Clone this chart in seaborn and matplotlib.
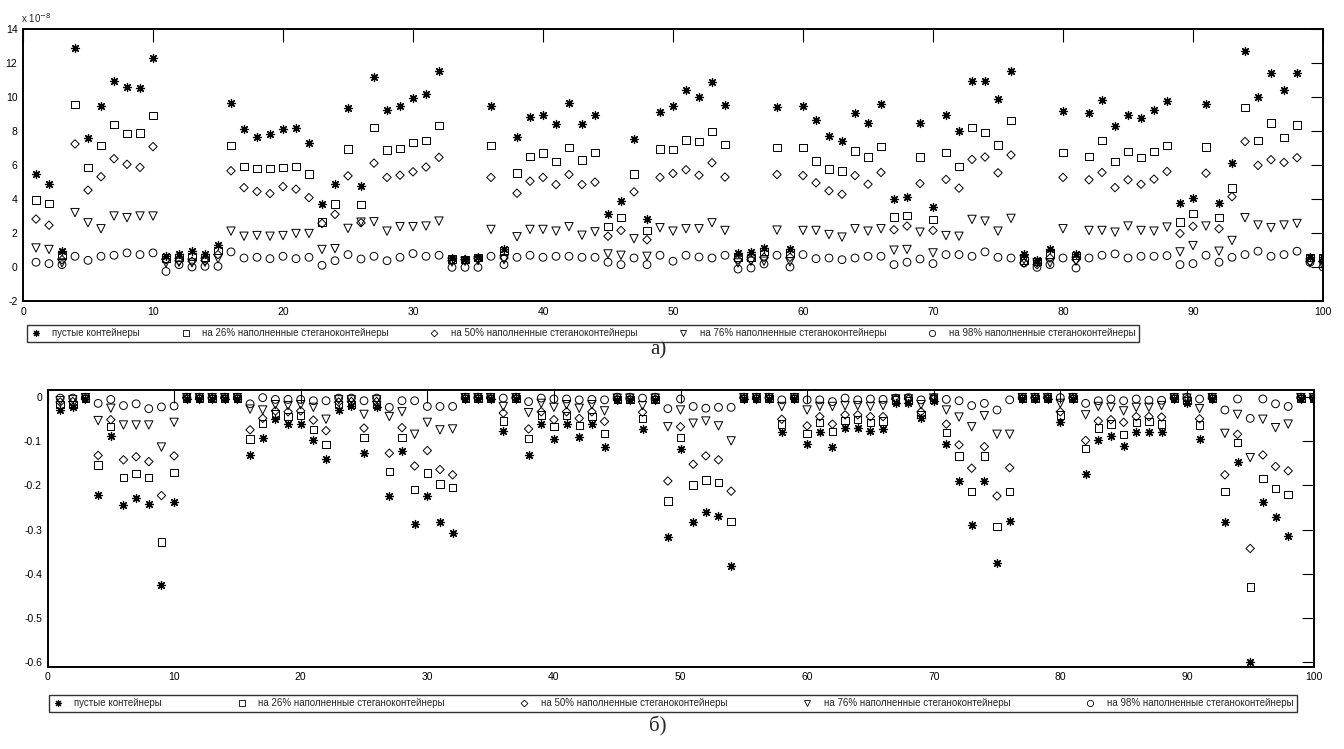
import numpy as np
import matplotlib
matplotlib.use("Agg")
import matplotlib.pyplot as plt
from matplotlib.lines import Line2D
import seaborn as sns

# ---------------- data ----------------
idx = list(range(1, 101))

labels = ["пустые контейнеры",
          "на 26% наполненные стеганоконтейнеры",
          "на 50% наполненные стеганоконтейнеры",
          "на 76% наполненные стеганоконтейнеры",
          "на 98% наполненные стеганоконтейнеры"]

# panel а) values in units of 1e-8
top_empty = [5.46, 4.91, 0.93, 12.9, 7.57, 9.45, 10.97, 10.61, 10.55, 12.3,
             0.63, 0.77, 0.93, 0.79, 1.28, 9.64, 8.13, 7.63, 7.83, 8.13,
             8.17, 7.28, 3.69, 4.91, 9.35, 4.77, 11.18, 9.21, 9.45, 9.94,
             10.16, 11.52, 0.50, 0.47, 0.57, 9.47, 1.08, 7.63, 8.82, 8.97,
             8.42, 9.63, 8.42, 8.97, 3.14, 3.87, 7.53, 2.80, 9.09, 9.45,
             10.43, 10.0, 10.89, 9.51, 0.83, 0.87, 1.12, 9.41, 1.08, 9.45,
             8.66, 7.69, 7.40, 9.05, 8.48, 9.61, 4.02, 4.12, 8.48, 3.53,
             8.93, 7.99, 10.97, 10.93, 9.88, 11.52, 0.79, 0.43, 1.08, 9.15,
             0.79, 9.05, 9.84, 8.32, 8.95, 8.76, 9.21, 9.76, 3.79, 4.04,
             9.57, 3.79, 6.11, 12.70, 10.0, 11.42, 10.43, 11.44, 0.57, 0.57]
top_26 = [3.94, 3.75, 0.69, 9.57, 5.86, 7.14, 8.40, 7.85, 7.89, 8.93,
          0.53, 0.57, 0.63, 0.57, 0.97, 7.14, 5.92, 5.80, 5.80, 5.86,
          5.92, 5.48, 2.64, 3.71, 6.94, 3.67, 8.19, 6.88, 6.98, 7.34,
          7.44, 8.34, 0.47, 0.43, 0.57, 7.16, 0.97, 5.54, 6.51, 6.71,
          6.19, 7.02, 6.29, 6.73, 2.37, 2.90, 5.48, 2.15, 6.94, 6.90,
          7.48, 7.38, 7.97, 7.20, 0.57, 0.57, 0.93, 7.04, 0.83, 7.04,
          6.23, 5.76, 5.64, 6.82, 6.47, 7.10, 2.94, 3.02, 6.47, 2.80,
          6.73, 5.92, 8.19, 7.91, 7.18, 8.62, 0.37, 0.34, 0.77, 6.75,
          0.67, 6.49, 7.44, 6.19, 6.80, 6.45, 6.80, 7.16, 2.64, 3.16,
          7.06, 2.90, 4.64, 9.37, 7.44, 8.46, 7.63, 8.36, 0.57, 0.53]
top_50 = [2.82, 2.46, 0.43, 7.24, 4.52, 5.31, 6.37, 6.04, 5.86, 7.08,
          0.43, 0.37, 0.34, 0.37, 0.73, 5.66, 4.67, 4.44, 4.32, 4.73,
          4.58, 4.08, 2.56, 3.10, 5.36, 2.60, 6.11, 5.27, 5.40, 5.60,
          5.88, 6.45, 0.37, 0.43, 0.49, 5.27, 0.53, 4.34, 5.05, 5.27,
          4.85, 5.44, 4.85, 4.99, 1.81, 2.15, 4.42, 1.60, 5.27, 5.50,
          5.72, 5.40, 6.13, 5.29, 0.43, 0.43, 0.57, 5.44, 0.57, 5.38,
          4.95, 4.48, 4.28, 5.38, 4.87, 5.56, 2.19, 2.41, 4.91, 2.15,
          5.15, 4.64, 6.33, 6.47, 5.54, 6.59, 0.24, 0.14, 0.53, 5.27,
          0.43, 5.13, 5.56, 4.67, 5.13, 4.87, 5.17, 5.62, 1.97, 2.39,
          5.52, 2.25, 4.14, 7.38, 5.98, 6.31, 6.15, 6.43, 0.34, 0.34]
top_76 = [1.12, 1.03, 0.24, 3.20, 2.60, 2.25, 3.00, 2.90, 3.00, 3.00,
          0.24, 0.28, 0.24, 0.28, 0.49, 2.11, 1.81, 1.85, 1.81, 1.85,
          1.97, 1.97, 1.03, 1.08, 2.27, 2.64, 2.66, 2.11, 2.37, 2.37,
          2.41, 2.70, 0.30, 0.34, 0.37, 2.21, 0.43, 1.78, 2.21, 2.21,
          2.11, 2.37, 1.87, 2.07, 0.77, 0.69, 1.66, 0.63, 2.31, 2.11,
          2.25, 2.25, 2.60, 2.15, 0.24, 0.34, 0.34, 2.17, 0.30, 2.15,
          2.15, 1.91, 1.76, 2.25, 2.11, 2.25, 0.99, 1.03, 2.05, 0.83,
          1.85, 1.81, 2.80, 2.70, 2.11, 2.86, 0.43, 0.24, 0.24, 2.25,
          0.34, 2.15, 2.15, 2.05, 2.41, 2.15, 2.11, 2.35, 0.89, 1.26,
          2.41, 0.93, 1.56, 2.90, 2.47, 2.31, 2.47, 2.56, 0.24, 0.08]
top_98 = [0.28, 0.20, 0.14, 0.63, 0.39, 0.63, 0.69, 0.83, 0.73, 0.83,
          -0.26, 0.14, 0.0, 0.04, 0.04, 0.89, 0.53, 0.57, 0.49, 0.63,
          0.49, 0.57, 0.10, 0.37, 0.73, 0.47, 0.63, 0.37, 0.57, 0.79,
          0.63, 0.69, -0.02, -0.02, -0.02, 0.63, 0.14, 0.57, 0.69, 0.57,
          0.63, 0.63, 0.57, 0.57, 0.28, 0.14, 0.53, 0.14, 0.69, 0.34,
          0.69, 0.59, 0.53, 0.69, -0.12, -0.06, 0.18, 0.69, 0.0, 0.73,
          0.49, 0.53, 0.43, 0.53, 0.63, 0.63, 0.14, 0.28, 0.47, 0.20,
          0.73, 0.73, 0.63, 0.89, 0.57, 0.53, 0.24, -0.02, 0.14, 0.53,
          -0.06, 0.53, 0.69, 0.77, 0.53, 0.63, 0.63, 0.67, 0.14, 0.20,
          0.69, 0.28, 0.57, 0.73, 0.93, 0.63, 0.73, 0.93, 0.28, 0.0]

# panel б) values
bot_empty = [-0.029, -0.023, -0.004, -0.222, -0.089, -0.244, -0.228, -0.242, -0.426, -0.237,
             -0.004, -0.004, -0.004, -0.004, -0.004, -0.131, -0.093, -0.050, -0.061, -0.061,
             -0.097, -0.140, -0.029, -0.021, -0.127, -0.023, -0.225, -0.123, -0.288, -0.225,
             -0.282, -0.309, -0.004, -0.004, -0.004, -0.076, -0.004, -0.132, -0.061, -0.095,
             -0.061, -0.091, -0.061, -0.112, -0.006, -0.006, -0.073, -0.006, -0.318, -0.118,
             -0.284, -0.261, -0.269, -0.383, -0.004, -0.004, -0.004, -0.080, -0.004, -0.107,
             -0.080, -0.112, -0.070, -0.070, -0.076, -0.072, -0.014, -0.014, -0.048, -0.008,
             -0.107, -0.191, -0.290, -0.189, -0.377, -0.281, -0.004, -0.004, -0.004, -0.057,
             -0.004, -0.175, -0.097, -0.087, -0.110, -0.079, -0.079, -0.079, -0.004, -0.014,
             -0.095, -0.004, -0.284, -0.146, -0.600, -0.237, -0.271, -0.315, -0.004, -0.004]
bot_26 = [-0.017, -0.016, -0.003, -0.154, -0.067, -0.182, -0.173, -0.182, -0.328, -0.171,
          -0.003, -0.003, -0.003, -0.003, -0.003, -0.095, -0.059, -0.038, -0.044, -0.042,
          -0.073, -0.107, -0.016, -0.016, -0.092, -0.016, -0.169, -0.092, -0.209, -0.172,
          -0.197, -0.205, -0.003, -0.003, -0.003, -0.054, -0.003, -0.093, -0.040, -0.067,
          -0.042, -0.064, -0.044, -0.082, -0.005, -0.005, -0.049, -0.005, -0.235, -0.092,
          -0.199, -0.188, -0.193, -0.282, -0.003, -0.003, -0.003, -0.061, -0.003, -0.082,
          -0.057, -0.078, -0.053, -0.050, -0.057, -0.054, -0.006, -0.008, -0.039, -0.004,
          -0.080, -0.133, -0.214, -0.133, -0.293, -0.214, -0.003, -0.003, -0.003, -0.040,
          -0.003, -0.117, -0.070, -0.061, -0.085, -0.057, -0.055, -0.061, -0.003, -0.008,
          -0.063, -0.003, -0.214, -0.102, -0.430, -0.184, -0.207, -0.220, -0.003, -0.003]
bot_50 = [-0.011, -0.010, -0.002, -0.132, -0.051, -0.142, -0.135, -0.146, -0.223, -0.133,
          -0.002, -0.002, -0.002, -0.002, -0.002, -0.074, -0.048, -0.031, -0.033, -0.031,
          -0.052, -0.076, -0.011, -0.010, -0.070, -0.010, -0.127, -0.069, -0.156, -0.121,
          -0.164, -0.176, -0.002, -0.002, -0.002, -0.036, -0.002, -0.072, -0.033, -0.051,
          -0.033, -0.048, -0.033, -0.055, -0.004, -0.004, -0.034, -0.004, -0.190, -0.067,
          -0.152, -0.133, -0.142, -0.213, -0.002, -0.002, -0.002, -0.050, -0.002, -0.065,
          -0.044, -0.061, -0.040, -0.040, -0.044, -0.044, -0.004, -0.004, -0.033, -0.004,
          -0.061, -0.108, -0.161, -0.112, -0.224, -0.160, -0.002, -0.002, -0.002, -0.033,
          -0.002, -0.098, -0.054, -0.051, -0.057, -0.044, -0.044, -0.045, -0.002, -0.004,
          -0.049, -0.002, -0.176, -0.084, -0.343, -0.131, -0.157, -0.167, -0.002, -0.002]
bot_76 = [-0.008, -0.006, -0.001, -0.053, -0.025, -0.063, -0.063, -0.063, -0.113, -0.057,
          -0.001, -0.001, -0.001, -0.001, -0.001, -0.027, -0.029, -0.017, -0.019, -0.017,
          -0.023, -0.050, -0.006, -0.006, -0.039, -0.006, -0.044, -0.033, -0.084, -0.057,
          -0.074, -0.072, -0.001, -0.001, -0.001, -0.021, -0.001, -0.035, -0.014, -0.023,
          -0.017, -0.025, -0.017, -0.031, -0.002, -0.002, -0.019, -0.002, -0.067, -0.029,
          -0.059, -0.054, -0.065, -0.099, -0.001, -0.001, -0.001, -0.021, -0.001, -0.029,
          -0.021, -0.021, -0.019, -0.019, -0.021, -0.019, -0.004, -0.004, -0.017, -0.002,
          -0.029, -0.045, -0.067, -0.042, -0.084, -0.084, -0.001, -0.001, -0.001, -0.014,
          -0.001, -0.040, -0.021, -0.023, -0.031, -0.023, -0.023, -0.019, -0.001, -0.002,
          -0.026, -0.001, -0.082, -0.039, -0.137, -0.050, -0.069, -0.061, -0.001, -0.001]
bot_98 = [-0.002, -0.002, 0.0, -0.014, -0.005, -0.019, -0.015, -0.026, -0.022, -0.020,
          0.0, 0.0, 0.0, 0.0, 0.0, -0.015, -0.001, -0.005, -0.005, -0.005,
          -0.008, -0.008, -0.002, -0.002, -0.008, -0.002, -0.023, -0.008, -0.008, -0.021,
          -0.021, -0.021, 0.0, 0.0, 0.0, -0.002, 0.0, -0.010, -0.002, -0.004,
          -0.004, -0.006, -0.005, -0.006, 0.0, 0.0, -0.002, 0.0, -0.026, -0.004,
          -0.021, -0.025, -0.023, -0.023, 0.0, 0.0, 0.0, -0.006, 0.0, -0.006,
          -0.006, -0.010, -0.002, -0.006, -0.004, -0.005, -0.002, -0.001, -0.006, -0.001,
          -0.005, -0.008, -0.019, -0.014, -0.029, -0.006, 0.0, 0.0, 0.0, -0.001,
          0.0, -0.014, -0.008, -0.004, -0.008, -0.004, -0.007, -0.007, 0.0, 0.0,
          -0.004, 0.0, -0.029, -0.004, -0.048, -0.004, -0.015, -0.021, 0.0, 0.0]

top_series = [top_empty, top_26, top_50, top_76, top_98]
bot_series = [bot_empty, bot_26, bot_50, bot_76, bot_98]

x_ticks = [0, 10, 20, 30, 40, 50, 60, 70, 80, 90, 100]
top_yticks = [-2, 0, 2, 4, 6, 8, 10, 12, 14]
bot_yticks = [-0.6, -0.5, -0.4, -0.3, -0.2, -0.1, 0]
bot_ytick_labels = ["-0.6", "-0.5", "-0.4", "-0.3", "-0.2", "-0.1", "0"]

# ---------------- style ----------------
sns.set_style("white")
plt.rcParams["font.family"] = ["Liberation Sans", "DejaVu Sans"]
plt.rcParams["axes.unicode_minus"] = False

W, H = 1344, 749
fig = plt.figure(figsize=(W / 100, H / 100), dpi=100)

markers = [(8, 2, 0), "s", "D", "v", "o"]
msizes = [5.8, 5.3, 4.3, 6.0, 5.6]
lw = 0.7


def draw(ax, series):
    for k, vals in enumerate(series):
        if k == 0:
            sns.scatterplot(x=idx, y=vals, ax=ax, marker=markers[k],
                            s=msizes[k] ** 2, color="black", linewidth=0.9,
                            legend=False, zorder=3)
        else:
            sns.scatterplot(x=idx, y=vals, ax=ax, marker=markers[k],
                            s=msizes[k] ** 2, facecolor="none",
                            edgecolor="black", linewidth=lw,
                            legend=False, zorder=3)


def style(ax):
    ax.set_xlim(0, 100)
    ax.set_xticks(x_ticks)
    ax.tick_params(direction="in", length=9, width=0.8, top=True, right=True,
                   labelsize=7.5, pad=4, colors="black")
    for sp in ax.spines.values():
        sp.set_visible(True)
        sp.set_linewidth(1.4)
        sp.set_color("black")
    ax.set_xlabel("")
    ax.set_ylabel("")
    ax.grid(False)


def add_legend(ax, cx, cy, colsp):
    handles = []
    for k in range(5):
        if k == 0:
            h = Line2D([], [], linestyle="none", marker=markers[k],
                       markersize=5, color="black", markeredgewidth=0.8)
        else:
            h = Line2D([], [], linestyle="none", marker=markers[k],
                       markersize=msizes[k] * 0.8, markerfacecolor="none",
                       markeredgecolor="black", markeredgewidth=0.6)
        handles.append(h)
    leg = fig.legend(handles, labels, loc="center", bbox_to_anchor=(cx, cy),
                     ncol=5, fontsize=7, frameon=True, fancybox=False,
                     edgecolor="black", handlelength=1.0, handletextpad=1.2,
                     columnspacing=colsp, borderpad=0.35, borderaxespad=0)
    leg.get_frame().set_linewidth(1.0)
    leg.get_frame().set_facecolor("white")
    return leg


# ---------------- panel а) ----------------
ax1 = fig.add_axes([23 / W, 1 - 301 / H, 1300 / W, 272 / H])
draw(ax1, top_series)
style(ax1)
ax1.set_ylim(-2, 14)
ax1.set_yticks(top_yticks)
ax1.set_yticklabels([str(v) for v in top_yticks])
fig.text(21 / W, 1 - 18 / H, r"x 10$^{-8}$", fontsize=7, ha="left", va="center")
add_legend(ax1, 583 / W, 1 - 333.5 / H, 4.2)
fig.text(658 / W, 1 - 350 / H, "а)", fontsize=15, ha="center", va="center",
         family=["Liberation Serif", "DejaVu Serif"])

# ---------------- panel б) ----------------
ax2 = fig.add_axes([47.5 / W, 1 - 666.7 / H, 1266 / W, 277 / H])
draw(ax2, bot_series)
style(ax2)
ax2.set_ylim(-0.611, 0.017)
ax2.set_yticks(bot_yticks)
ax2.set_yticklabels(bot_ytick_labels)
add_legend(ax2, 673 / W, 1 - 703.3 / H, 7.7)
fig.text(658 / W, 1 - 726 / H, "б)", fontsize=15, ha="center", va="center",
         family=["Liberation Serif", "DejaVu Serif"])

fig.savefig("out.png", dpi=100, facecolor="white")
